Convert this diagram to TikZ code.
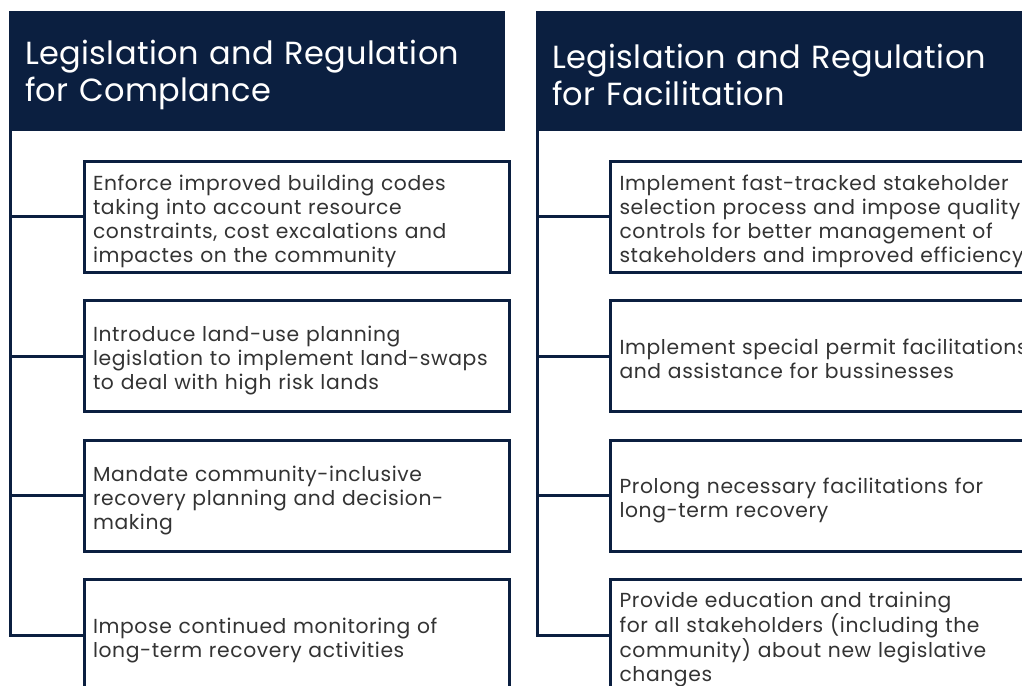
\documentclass[tikz,border=0pt]{standalone}
\usepackage{fontspec}
\setmainfont{Poppins}
\definecolor{navy}{HTML}{0B1F40}
\definecolor{txt}{HTML}{333333}
\begin{document}
\begin{tikzpicture}[x=1pt,y=-1pt,
  hdr/.style={fill=navy, anchor=north west, inner sep=0pt, outer sep=0pt,
    minimum width=496pt, minimum height=120pt},
  hdrtext/.style={text=white, anchor=west, inner sep=0pt, outer sep=0pt, text width=480pt,
    align=left, font=\fontsize{32}{37}\selectfont\addfontfeatures{LetterSpace=1.2}},
  itembox/.style={draw=navy, line width=3pt, fill=white, anchor=north west,
    inner sep=0pt, outer sep=0pt, minimum width=425pt, minimum height=111pt},
  widebox/.style={itembox, minimum width=460pt},
  itemtext/.style={text=txt, anchor=west, inner sep=0pt, outer sep=0pt, text width=440pt,
    align=left, font=\fontsize{20.3}{24}\selectfont\addfontfeatures{LetterSpace=3}},
  conn/.style={draw=navy, line width=3pt}]
\useasboundingbox (0,0) rectangle (1022,685);
\clip (0,0) rectangle (1022,685);
% headers
\node[hdr] (hL) at (9,11) {};
\node[hdr] (hR) at (536,11) {};
\node[hdrtext] (hLt) at ([xshift=16pt,yshift=-4pt]hL.west) {Legislation and Regulation\\for Complance};
\node[hdrtext] (hRt) at ([xshift=16pt,yshift=-4pt]hR.west) {Legislation and Regulation\\for Facilitation};
% spines
\coordinate (sL) at (10.5,131);
\coordinate (sR) at (537.5,131);
% left boxes
\node[itembox] (bL1) at (84,161) {};
\node[itembox] (bL2) at (84,300.5) {};
\node[itembox] (bL3) at (84,440) {};
\node[itembox] (bL4) at (84,579.5) {};
% right boxes
\node[widebox] (bR1) at (610.5,161) {};
\node[widebox] (bR2) at (610.5,300.5) {};
\node[widebox] (bR3) at (610.5,440) {};
\node[widebox] (bR4) at (610.5,579.5) {};
% texts
\node[itemtext] (tL1) at ([xshift=9pt,yshift=-5pt]bL1.west) {Enforce improved building codes\\taking into account resource\\constraints, cost excalations and\\impactes on the community};
\node[itemtext] (tL2) at ([xshift=9pt,yshift=-5pt]bL2.west) {Introduce land-use planning\\legislation to implement land-swaps\\to deal with high risk lands};
\node[itemtext] (tL3) at ([xshift=9pt,yshift=-5pt]bL3.west) {Mandate community-inclusive\\recovery planning and decision-\\making};
\node[itemtext] (tL4) at ([xshift=9pt,yshift=-5pt]bL4.west) {Impose continued monitoring of\\long-term recovery activities};
\node[itemtext] (tR1) at ([xshift=9pt,yshift=-5pt]bR1.west) {Implement fast-tracked stakeholder\\selection process and impose quality\\controls for better management of\\stakeholders and improved efficiency};
\node[itemtext] (tR2) at ([xshift=9pt,yshift=-3pt]bR2.west) {Implement special permit facilitations\\and assistance for bussinesses};
\node[itemtext] (tR3) at ([xshift=9pt,yshift=-5pt]bR3.west) {Prolong necessary facilitations for\\long-term recovery};
\node[itemtext] (tR4) at ([xshift=9pt,yshift=-4.5pt]bR4.west) {Provide education and training\\for all stakeholders (including the\\community) about new legislative\\changes};
% connectors
\draw[conn] (sL) |- (bL4.west);
\draw[conn] (bL1.west -| sL) -- (bL1.west);
\draw[conn] (bL2.west -| sL) -- (bL2.west);
\draw[conn] (bL3.west -| sL) -- (bL3.west);
\draw[conn] (sR) |- (bR4.west);
\draw[conn] (bR1.west -| sR) -- (bR1.west);
\draw[conn] (bR2.west -| sR) -- (bR2.west);
\draw[conn] (bR3.west -| sR) -- (bR3.west);
\end{tikzpicture}
\end{document}
